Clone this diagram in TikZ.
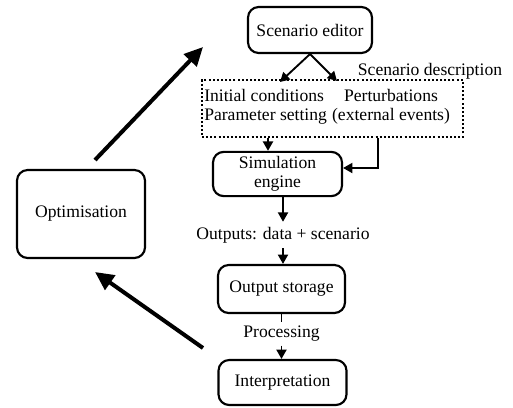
\documentclass[tikz,border=0pt]{standalone}
\usepackage{fontspec}
\setmainfont{Liberation Serif}
\usetikzlibrary{arrows.meta}
\tikzset{
  blocco/.style={draw, line width=1.6pt, rounded corners=8pt, align=center},
  freccia/.style={line width=1.4pt, -{Triangle[length=7pt, width=7.5pt]}},
  frecciona/.style={line width=3pt, -{Triangle[length=14pt, width=13pt]}}
}
\begin{document}
\begin{tikzpicture}[x=0.75pt, y=-0.75pt, font=\fontsize{13.2}{14.5}\selectfont]
\useasboundingbox (0,0) rectangle (513,407);
% blocchi
\node[blocco, minimum width=93pt, minimum height=34.5pt] (editor) at (310,30) {Scenario editor};
\node[draw, line width=1.7pt, dash pattern=on 1.5pt off 1.6pt, minimum width=195.75pt, minimum height=42.75pt] (desc) at (332.5,108.5) {};
\node[anchor=west, align=left, inner sep=0pt] (init) at (204,107) {Initial conditions\\Parameter setting};
\node[align=center, inner sep=0pt] (pert) at (391,107) {Perturbations\\(external events)};
\node (desclab) at (430,71) {Scenario description};
\node[blocco, minimum width=96.75pt, minimum height=31.5pt] (sim) at (277.5,174) {Simulation\\engine};
\node[inner sep=0pt, minimum height=19.5pt] (outputs) at (283,235) {Outputs: data + scenario};
\node[blocco, minimum width=95.25pt, minimum height=36pt] (store) at (281.5,289) {Output storage};
\node[inner sep=0pt, minimum height=17pt] (proc) at (281.5,334) {Processing};
\node[blocco, minimum width=96pt, minimum height=33.75pt] (interp) at (282.5,382.5) {Interpretation};
\node[blocco, minimum width=96pt, minimum height=66pt] (opt) at (81,214) {Optimisation};
% frecce
\coordinate (e1) at (280,82);
\coordinate (e2) at (337,81);
\draw[freccia] (editor.south) -- (e1);
\draw[freccia] (editor.south) -- (e2);
\draw[freccia] (desc.south -| 268,0) -- (sim.north -| 268,0);
\draw[freccia] (desc.south -| 378,0) |- (sim.east |- 0,168);
\draw[freccia] (sim.south -| outputs.north) -- (outputs.north);
\draw[freccia] (outputs.south) -- (store.north -| outputs.south);
\draw[line width=1.4pt] (store.south) -- (proc.north);
\draw[freccia] (proc.south) -- (interp.north -| proc.south);
% ciclo
\coordinate (o1) at (95,160);
\coordinate (o2) at (203,47);
\coordinate (i1) at (203,348);
\coordinate (i2) at (95,272);
\draw[frecciona] (o1) -- (o2);
\draw[frecciona] (i1) -- (i2);
\end{tikzpicture}
\end{document}
